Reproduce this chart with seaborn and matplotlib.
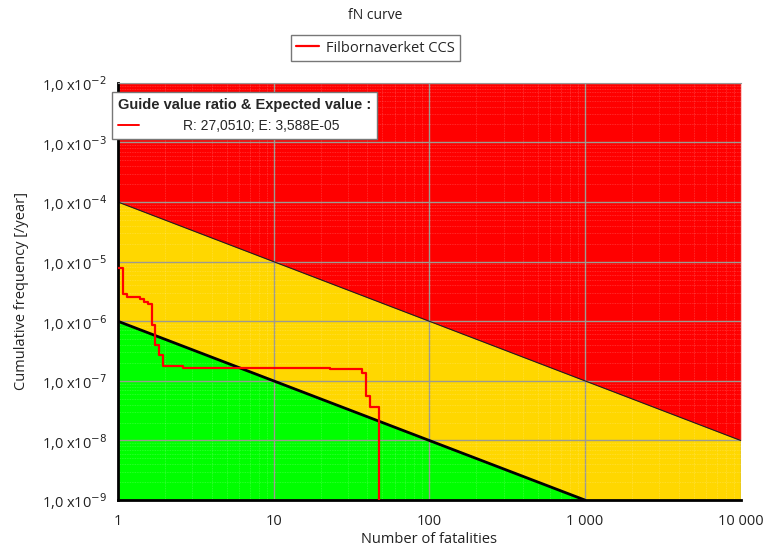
import numpy as np
import pandas as pd
import matplotlib
matplotlib.use('Agg')
import matplotlib.pyplot as plt
import seaborn as sns
from matplotlib.lines import Line2D
from matplotlib.ticker import FixedLocator, FixedFormatter, LogLocator, NullFormatter

# fN curve (step points)
fatalities = [1.0, 1.08, 1.15, 1.38, 1.47, 1.57, 1.65, 1.73, 1.84, 1.95, 2.63, 23.0, 36.7, 39.0, 41.5, 47.5, 47.5]
frequency = [7.8e-6, 2.85e-6, 2.54e-6, 2.38e-6, 2.14e-6, 1.94e-6, 8.7e-7, 4.0e-7, 2.73e-7, 1.81e-7,
             1.63e-7, 1.57e-7, 1.38e-7, 5.66e-8, 3.63e-8, 3.63e-8, 1e-10]

# criteria lines
upper_n = [1, 10000]
upper_f = [1e-4, 1e-8]
lower_n = [1, 1000]
lower_f = [1e-6, 1e-9]

x_ticks = [1, 10, 100, 1000, 10000]
x_labels = ['1', '10', '100', '1 000', '10 000']
y_ticks = [1e-9, 1e-8, 1e-7, 1e-6, 1e-5, 1e-4, 1e-3, 1e-2]
y_labels = [r'1,0 x10$^{-%d}$' % e for e in [9, 8, 7, 6, 5, 4, 3, 2]]

series_name = 'Filbornaverket CCS'
guide_title = 'Guide value ratio & Expected value :'
guide_entry = 'R: 27,0510; E: 3,588E-05'

sns.set_style('white')
plt.rcParams['font.family'] = ['Open Sans', 'DejaVu Sans']

fig = plt.figure(figsize=(7.66, 5.52), dpi=100)
ax = fig.add_axes([0.154, 0.094, 0.813, 0.756])

red = '#FF0000'
yellow = '#FFD700'
green = '#00FF00'

xx = np.array([1, 10000])
ax.fill_between(xx, [1e-9, 1e-9], [1e-2, 1e-2], color=yellow, zorder=0, linewidth=0)
ax.fill_between(upper_n, upper_f, [1e-2, 1e-2], color=red, zorder=0, linewidth=0)
ax.fill_between(lower_n, [1e-9, 1e-9], lower_f, color=green, zorder=0, linewidth=0)

df_up = pd.DataFrame({'N': upper_n, 'F': upper_f})
df_lo = pd.DataFrame({'N': lower_n, 'F': lower_f})
sns.lineplot(data=df_up, x='N', y='F', ax=ax, color='#202020', linewidth=0.8, zorder=2)
sns.lineplot(data=df_lo, x='N', y='F', ax=ax, color='black', linewidth=2, zorder=2)

df_fn = pd.DataFrame({'N': fatalities, 'F': frequency})
sns.lineplot(data=df_fn, x='N', y='F', ax=ax, color=red, linewidth=1.6,
             drawstyle='steps-post', sort=False, estimator=None, zorder=3)

ax.set_xscale('log')
ax.set_yscale('log')
ax.set_xlim(1, 10000)
ax.set_ylim(1e-9, 1e-2)

ax.xaxis.set_major_locator(FixedLocator(x_ticks))
ax.xaxis.set_major_formatter(FixedFormatter(x_labels))
ax.yaxis.set_major_locator(FixedLocator(y_ticks))
ax.yaxis.set_major_formatter(FixedFormatter(y_labels))
ax.xaxis.set_minor_locator(LogLocator(base=10, subs=np.arange(2, 10)))
ax.yaxis.set_minor_locator(LogLocator(base=10, subs=np.arange(2, 10), numticks=20))
ax.xaxis.set_minor_formatter(NullFormatter())
ax.yaxis.set_minor_formatter(NullFormatter())

ax.set_axisbelow(True)
ax.grid(which='major', color='#9E9A90', linewidth=1.0)
ax.grid(which='minor', color='white', alpha=0.22, linewidth=0.6, linestyle=(0, (1, 1)))

ax.tick_params(axis='both', which='major', labelsize=10.5, length=4, color='#555555', labelcolor='#222222', direction='out')
ax.tick_params(axis='both', which='minor', length=2, color='#888888', direction='out')
ax.tick_params(axis='x', pad=6)
ax.tick_params(axis='y', pad=4)

for s in ['left', 'bottom']:
    ax.spines[s].set_color('black')
    ax.spines[s].set_linewidth(2)
ax.spines['top'].set_color('#999999')
ax.spines['top'].set_linewidth(0.8)
ax.spines['right'].set_visible(False)

ax.set_xlabel('Number of fatalities', fontsize=10.5, color='#222222', labelpad=2)
ax.set_ylabel('Cumulative frequency [/year]', fontsize=10.5, color='#222222', labelpad=9)

fig.text(0.49, 0.972, 'fN curve', ha='center', va='center', fontsize=10, color='#222222')

h1 = [Line2D([0], [0], color=red, linewidth=1.6)]
leg1 = fig.legend(h1, [series_name], loc='center', bbox_to_anchor=(0.49, 0.913),
                  fancybox=False, edgecolor='#777777', framealpha=1, fontsize=10.5,
                  handlelength=1.6, borderpad=0.35, handletextpad=0.5)
leg1.get_frame().set_linewidth(1.0)

h2 = [Line2D([0], [0], color=red, linewidth=1.4)]
leg2 = ax.legend(h2, [guide_entry], loc='upper left', bbox_to_anchor=(-0.010, 0.979),
                 borderaxespad=0, fancybox=False, edgecolor='#777777', framealpha=1,
                 prop={'family': 'Liberation Sans', 'size': 10}, handlelength=1.5,
                 handletextpad=3.2, borderpad=0.45, shadow=False)
leg2.set_title(guide_title, prop={'family': 'Liberation Sans', 'size': 10.5, 'weight': 'bold'})
leg2._legend_box.align = 'left'
leg2.get_frame().set_linewidth(1.0)
leg2.set_zorder(10)

fig.savefig('out.png', dpi=100)
